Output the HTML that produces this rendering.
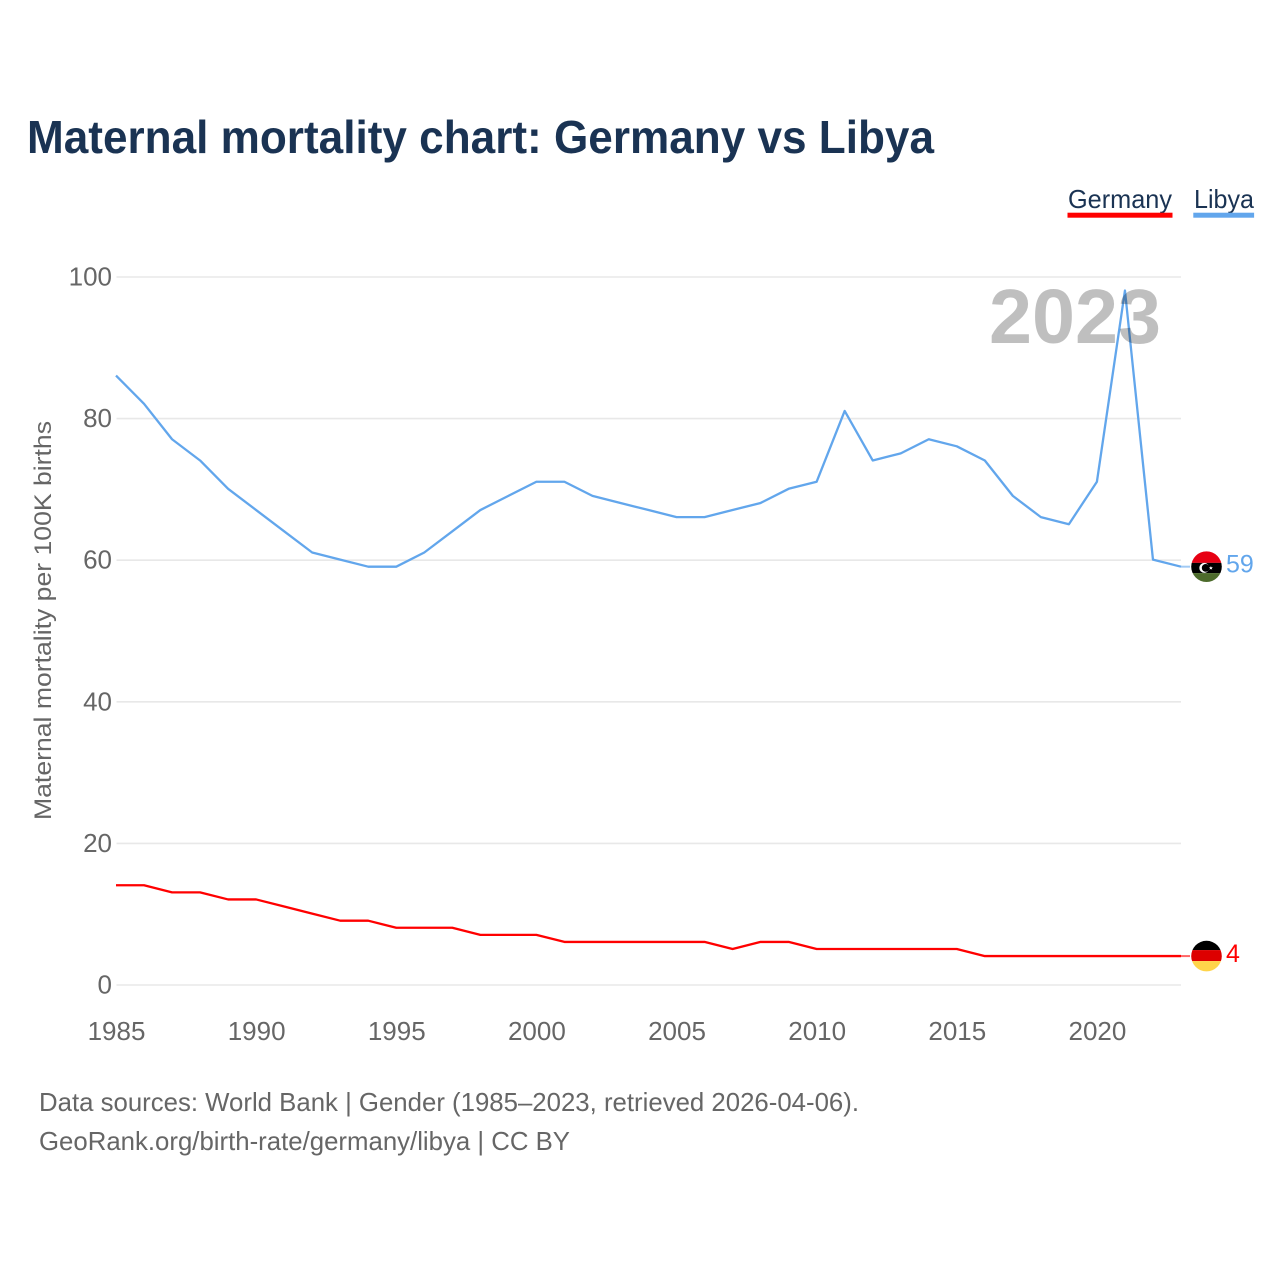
<!DOCTYPE html>
<html lang="en">
<head>
<meta charset="utf-8">
<title>Maternal mortality chart: Germany vs Libya</title>
<style>
html,body{margin:0;padding:0;background:#fff;width:1280px;height:1280px;overflow:hidden}
svg{display:block;font-family:"Liberation Sans",sans-serif}
</style>
</head>
<body>
<svg id="chart" width="1280" height="1280" viewBox="0 0 1280 1280" xmlns="http://www.w3.org/2000/svg">
  <defs>
    <clipPath id="flag-clip"><circle cx="0" cy="0" r="15.3"></circle></clipPath>
  </defs>
  <rect width="1280" height="1280" fill="#fff"></rect>
  <text x="27" y="153" font-size="46" font-weight="700" fill="#1a3353" textLength="907" lengthAdjust="spacingAndGlyphs">Maternal mortality chart: Germany vs Libya</text>

  <g>
    <g>
      <text x="1068" y="208" font-size="26" fill="#1a3353" textLength="104" lengthAdjust="spacingAndGlyphs">Germany</text>
      <rect x="1067.5" y="212.7" width="105" height="5" fill="#ff0000"></rect>
    </g>
    <g>
      <text x="1194" y="208" font-size="26" fill="#1a3353" textLength="60" lengthAdjust="spacingAndGlyphs">Libya</text>
      <rect x="1193.3" y="212.7" width="60.8" height="5" fill="#62a6ec"></rect>
    </g>
  </g>

  <g id="grid"></g>
  <g id="y-axis"></g>
  <g id="x-axis"></g>
  <text transform="translate(51,820) rotate(-90)" font-size="24" fill="#666" textLength="399" lengthAdjust="spacingAndGlyphs">Maternal mortality per 100K births</text>

  <g id="series"></g>

  <text x="989" y="343" font-size="77" font-weight="700" fill="#000" fill-opacity="0.25" textLength="172" lengthAdjust="spacingAndGlyphs">2023</text>

  <g id="end-markers"></g>

  <g>
    <text x="39" y="1111" font-size="26" fill="#666" textLength="820" lengthAdjust="spacingAndGlyphs">Data sources: World Bank | Gender (1985–2023, retrieved 2026-04-06).</text>
    <text x="39" y="1150" font-size="26" fill="#666" textLength="531" lengthAdjust="spacingAndGlyphs">GeoRank.org/birth-rate/germany/libya | CC BY</text>
  </g>
</svg>

<script>
const years = [1985,1986,1987,1988,1989,1990,1991,1992,1993,1994,1995,1996,1997,1998,1999,2000,2001,2002,2003,2004,2005,2006,2007,2008,2009,2010,2011,2012,2013,2014,2015,2016,2017,2018,2019,2020,2021,2022,2023];
const germanyValues = [14,14,13,13,12,12,11,10,9,9,8,8,8,7,7,7,6,6,6,6,6,6,5,6,6,5,5,5,5,5,5,4,4,4,4,4,4,4,4];
const libyaValues = [86,82,77,74,70,67,64,61,60,59,59,61,64,67,69,71,71,69,68,67,66,66,67,68,70,71,81,74,75,77,76,74,69,66,65,71,98,60,59];
const xTickLabels = [1985,1990,1995,2000,2005,2010,2015,2020];
const yTickLabels = [0,20,40,60,80,100];

const NS = 'http://www.w3.org/2000/svg';
const xScale = function (year) { return 116 + (year - 1985) * (1181 - 116) / 38; };
const yScale = function (v) { return 985 - v * 7.08; };
const lineY = function (v) { return yScale(v) - 0.6; };

function make(tag, parent, attrs) {
  const el = document.createElementNS(NS, tag);
  Object.keys(attrs).forEach(function (k) { el.setAttribute(k, attrs[k]); });
  parent.appendChild(el);
  return el;
}

const grid = document.getElementById('grid');
const yAxis = document.getElementById('y-axis');
const xAxis = document.getElementById('x-axis');
const series = document.getElementById('series');
const markers = document.getElementById('end-markers');

yTickLabels.forEach(function (t) {
  const line = make('line', grid, {x1: 116.5, x2: 1181, y1: yScale(t), y2: yScale(t), stroke: '#e8e8e8', 'stroke-width': 1.6});
  
  
  const label = make('text', yAxis, {x: 112, y: yScale(t) + 8.5, 'font-size': 26, fill: '#666', 'text-anchor': 'end'});
  
  
  label.textContent = t;
});

xTickLabels.forEach(function (t) {
  const label = make('text', xAxis, {x: xScale(t) + 0.5, y: 1040, 'font-size': 26, fill: '#666', 'text-anchor': 'middle'});
  
  
  label.textContent = t;
});

function drawSeries(values, color, key) {
  const pts = values.map(function (v, i) { return xScale(years[i]).toFixed(2) + ',' + lineY(v).toFixed(2); }).join(' ');
  const line = make('polyline', series, {points: pts, fill: 'none', stroke: color, 'stroke-width': 2.3, 'stroke-linejoin': 'round'});
  
  
}

function drawFlag(g, key) {
  const stripes = key === 'libya'
    ? [['#e70013', -16, 12.2], ['#000000', -3.8, 10.2], ['#4d6b2c', 6.4, 10]]
    : [['#000000', -16, 10], ['#dd0000', -6, 11], ['#ffd44a', 5, 11]];
  const clip = make('g', g, {'clip-path': 'url(#flag-clip)'});
  stripes.forEach(function (s) {
    make('rect', clip, {x: -16, y: s[1], width: 32, height: s[2], fill: s[0]});
  });
  if (key === 'libya') {
    make('circle', g, {cx: -2.2, cy: 1.2, r: 5, fill: '#fff'});
    make('circle', g, {cx: -0.8, cy: 1.2, r: 3.9, fill: '#000'});
    make('polygon', g, {points: '4.4,-0.6 5,0.7 6.4,0.7 5.3,1.6 5.7,3 4.4,2.2 3.1,3 3.5,1.6 2.4,0.7 3.8,0.7', fill: '#fff'});
  }
}

function drawEnd(values, color, key) {
  const last = values[values.length - 1];
  const y = yScale(last);
  const connector = make('line', markers, {x1: xScale(years[years.length - 1]), x2: 1190, y1: y - 0.6, y2: y - 0.6, stroke: color, 'stroke-width': 2, 'stroke-opacity': 0.6});
  
  
  const flag = make('g', markers, {transform: 'translate(1206.5,' + (y - 0.6) + ')'});
  
  
  drawFlag(flag, key);
  const label = make('text', markers, {x: 1226, y: y + 5.2, 'font-size': 25, fill: color});
  
  
  label.textContent = last;
}

drawSeries(germanyValues, '#ff0000', 'germany');
drawSeries(libyaValues, '#62a6ec', 'libya');
drawEnd(germanyValues, '#ff0000', 'germany');
drawEnd(libyaValues, '#62a6ec', 'libya');
</script>
</body>
</html>
